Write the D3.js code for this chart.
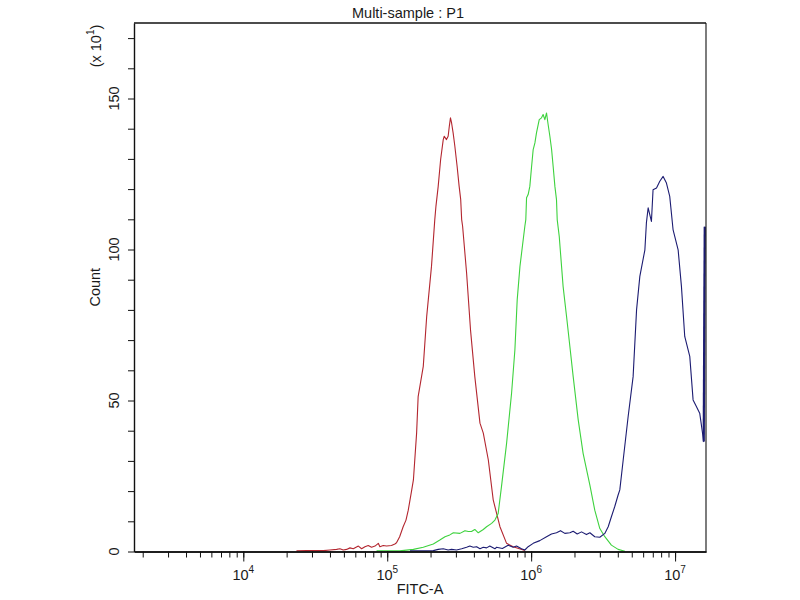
<!DOCTYPE html>
<html><head><meta charset="utf-8">
<script src="https://cdn.jsdelivr.net/npm/d3@7"></script>
<style>
body{margin:0;background:#fff}
svg{display:block}
text{font-family:"Liberation Sans",Arial,sans-serif;fill:#1a1a1a}
</style>
</head><body><svg id="c" width="800" height="600"></svg>
<script>
// ---------- data ----------
const title = "Multi-sample : P1";
const xLabel = "FITC-A";
const yLabel = "Count";
const yUnitBase = "(x 10";
const yUnitExp = "1";
const xDomain = [1740, 1.64e7];
const yDomain = [0, 175];
const xMajorTicks = [1e4, 1e5, 1e6, 1e7];
const xTickBase = "10";
const xTickExp = ["4", "5", "6", "7"];
const yMajorTicks = [0, 50, 100, 150];
const yTickLabels = ["0", "50", "100", "150"];
const yMinorStep = 10;

const redX = [23400,27500,36000,40000,44500,46900,49500,52200,55100,58100,63000,66400,70000,73800,77800,82200,86700,88900,93800,98900,107000,113000,116000,122000,129000,135000,140000,144000,148000,152000,160000,164000,178000,188000,203000,214000,218000,226000,235000,245000,249000,258000,265000,270000,275000,280000,287000,295000,306000,316000,324000,329000,334000,356000,379000,406000,441000,465000,504000,545000,607000,675000,750000,904000];
const redY = [0.2,0.3,0.3,0.5,0.7,0.9,0.5,0.7,1.2,0.9,1.8,0.9,1.6,2.0,1.4,1.8,2.7,1.6,2.0,1.8,2.0,2.5,2.9,4.9,8.2,10.4,13.7,17.1,20.4,23.7,39.2,51.3,61.3,77.8,94.4,109.9,114.3,120.9,129.8,136.4,137.5,136.4,137.5,140.8,143.6,141.9,138.6,134.2,127.5,120.9,116.5,109.9,107.7,92.2,73.4,57.9,42.5,39.2,30.3,17.1,8.2,2.7,1.6,0.3];

const greenX = [84300,122000,152000,178000,209000,232000,252000,272000,288000,320000,347000,366000,385000,406000,429000,465000,490000,531000,560000,590000,622000,675000,731000,771000,800000,836000,904000,918000,929000,953000,979000,1007000,1033000,1062000,1089000,1138000,1180000,1211000,1245000,1279000,1312000,1349000,1387000,1422000,1462000,1500000,1517000,1567000,1667000,1762000,1858000,1959000,2123000,2296000,2559000,2767000,3000000,3250000,3610000,4020000,4480000];
const greenY = [0.2,0.2,0.7,1.4,2.5,3.8,4.9,5.5,6.2,6.0,6.9,6.6,6.6,7.3,6.2,7.3,8.2,9.3,10.4,12.6,21.5,35.8,52.4,66.8,83.4,94.4,107.7,109.9,117.1,118.2,120.9,127.5,133.1,135.3,138.6,143.0,143.6,144.7,143.0,145.2,141.4,137.5,133.1,127.5,120.9,116.5,109.9,104.4,87.8,77.8,67.9,57.9,43.6,32.5,22.0,13.7,7.6,4.9,2.1,0.7,0.1];

const blueX = [144000,188000,209000,226000,245000,265000,280000,303000,329000,356000,375000,396000,418000,441000,465000,490000,516000,560000,575000,631000,692000,750000,791000,857000,904000,953000,1033000,1148000,1279000,1384000,1500000,1600000,1714000,1858000,1959000,2089000,2239000,2421000,2559000,2767000,3000000,3250000,3430000,3610000,3810000,4020000,4130000,4360000,4720000,5110000,5400000,5690000,6170000,6320000,6500000,6850000,7030000,7430000,7830000,8260000,8710000,9180000,9680000,10500000,11070000,11670000,12650000,13340000,14060000,14830000,15630000,15810000,16070000];
const blueY = [0.2,0.2,0.3,0.7,0.9,0.5,0.7,0.5,0.9,1.4,1.8,1.4,1.6,0.9,1.4,1.2,1.8,0.9,1.4,1.0,2.1,1.4,1.8,0.9,0.5,1.6,2.7,3.6,4.9,5.8,6.2,6.9,6.0,6.2,6.7,5.8,6.5,5.6,6.2,4.9,4.7,6.0,8.2,11.5,14.9,18.7,20.4,30.3,44.7,57.9,80.0,91.1,99.9,108.8,113.8,109.3,119.8,120.4,122.6,124.2,122.0,117.6,106.6,99.9,87.8,71.2,64.6,50.2,48.0,45.8,38.1,36.4,107.5];

const seriesColors = ["#b3262f", "#3ed23e", "#1c1c72"];

// ---------- layout ----------
const L = 134, R = 706, T = 23, B = 551.5;
const svg = d3.select("#c");
const x = d3.scaleLog().domain(xDomain).range([L, R]);
const y = d3.scaleLinear().domain(yDomain).range([B, T]);

// curves
const line = d3.line().x(d => x(d[0])).y(d => y(d[1]));
const series = [
  {xs: redX, ys: redY, c: seriesColors[0]},
  {xs: greenX, ys: greenY, c: seriesColors[1]},
  {xs: blueX, ys: blueY, c: seriesColors[2]}
];
const g = svg.append("g");
series.forEach(s => {
  const pts = s.xs.map((v, i) => [v, s.ys[i]]);
  g.append("path").attr("d", line(pts)).attr("fill", "none")
    .attr("stroke", s.c).attr("stroke-width", 1.1).attr("stroke-linejoin", "round");
});
// final overflow bin thicker
g.append("path")
  .attr("d", line([[blueX[blueX.length-2], blueY[blueY.length-2]], [blueX[blueX.length-1], blueY[blueY.length-1]]]))
  .attr("stroke", seriesColors[2]).attr("stroke-width", 2.2).attr("fill", "none");

// frame (top & right)
svg.append("line").attr("x1", L).attr("x2", R).attr("y1", T).attr("y2", T).attr("stroke", "#111").attr("stroke-width", 1.3);
svg.append("line").attr("x1", R).attr("x2", R).attr("y1", T).attr("y2", B).attr("stroke", "#111").attr("stroke-width", 1.1);

// x axis
const minorX = x.ticks().filter(v => v >= xDomain[0] && v <= xDomain[1]);
const axMinor = svg.append("g").attr("transform", `translate(0,${B})`)
  .call(d3.axisBottom(x).tickValues(minorX).tickSize(6).tickSizeOuter(0).tickFormat(""));
const axMajor = svg.append("g").attr("transform", `translate(0,${B})`)
  .call(d3.axisBottom(x).tickValues(xMajorTicks).tickSize(10).tickSizeOuter(0).tickFormat(""));
[axMinor, axMajor].forEach(a => {
  a.select(".domain").attr("stroke", "#111").attr("stroke-width", 1.4);
  a.selectAll(".tick line").attr("stroke", "#111").attr("stroke-width", 1);
});
xMajorTicks.forEach((v, i) => {
  const t = svg.append("text").attr("x", x(v)).attr("y", 580)
    .attr("text-anchor", "middle").attr("font-size", 14.5);
  t.append("tspan").text(xTickBase);
  t.append("tspan").attr("dy", -7).attr("font-size", 10).text(xTickExp[i]);
});
svg.append("text").attr("x", (L + R) / 2).attr("y", 594).attr("text-anchor", "middle")
  .attr("font-size", 14.5).text(xLabel);

// y axis
const yAll = d3.range(yDomain[0], yDomain[1], yMinorStep);
const ay = svg.append("g").attr("transform", `translate(${L},0)`)
  .call(d3.axisLeft(y).tickValues(yAll).tickSize(6).tickSizeOuter(0).tickFormat(""));
ay.select(".domain").attr("stroke", "#111").attr("stroke-width", 1.4);
ay.selectAll(".tick line").attr("stroke", "#111").attr("stroke-width", 1);
yMajorTicks.forEach((v, i) => {
  svg.append("text").attr("transform", `translate(119,${y(v)}) rotate(-90)`)
    .attr("text-anchor", "middle").attr("font-size", 14.5).text(yTickLabels[i]);
});
svg.append("text").attr("transform", `translate(100,${(T + B) / 2}) rotate(-90)`)
  .attr("text-anchor", "middle").attr("font-size", 14.5).text(yLabel);
const u = svg.append("text").attr("transform", `translate(101,46) rotate(-90)`)
  .attr("text-anchor", "middle").attr("font-size", 14.5);
u.append("tspan").text(yUnitBase);
u.append("tspan").attr("dy", -7).attr("font-size", 10).text(yUnitExp);
u.append("tspan").attr("dy", 7).text(")");

// title
svg.append("text").attr("x", 408).attr("y", 18).attr("text-anchor", "middle")
  .attr("font-size", 14.5).text(title);
</script>
</body></html>
